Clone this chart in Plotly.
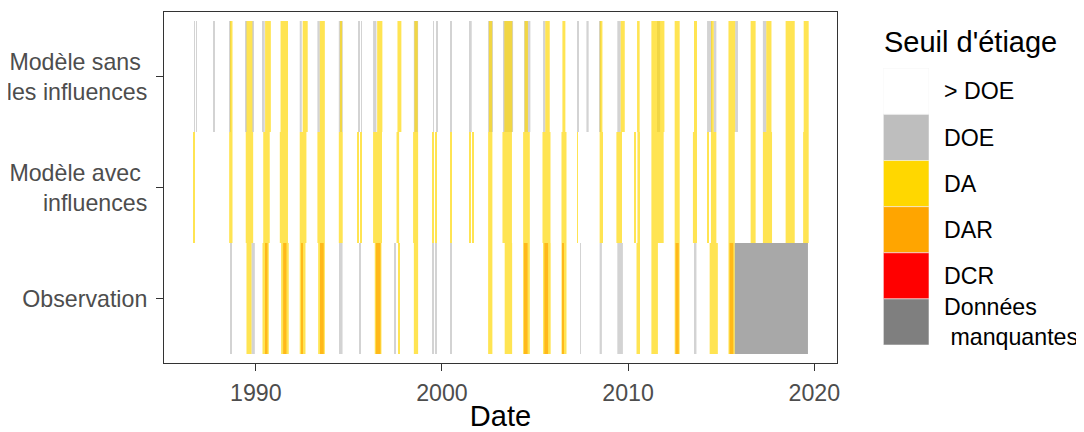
import numpy as np
import plotly.graph_objects as go

# ---------------- data ----------------
rows = ["Observation", "Modèle avec influences", "Modèle sans les influences"]
row_labels = ["Observation", "Modèle avec <br>influences", "Modèle sans <br>les influences"]

categories = ["> DOE", "DOE", "DA", "DAR", "DCR", "Données manquantes"]
legend_labels = ["> DOE", "DOE", "DA", "DAR", "DCR", "Données<br>\u00a0manquantes"]
cat_colors = ["#FFFFFF", "#BEBEBE", "#FFD700", "#FFA500", "#FF0000", "#7F7F7F"]

# Modèle sans les influences
sans_start = [1986.70, 1986.79, 1987.74, 1988.60, 1988.66, 1989.46, 1989.50, 1989.82,
              1990.38, 1990.50, 1991.33, 1992.36, 1992.52, 1993.31, 1993.44, 1994.46,
              1994.52, 1995.53, 1995.66, 1996.30, 1996.52, 1997.61, 1998.49, 1998.52,
              1999.52, 1999.70, 2000.46, 2001.50, 2002.48, 2002.52, 2003.28, 2003.35,
              2004.41, 2004.44, 2005.43, 2005.55, 2006.47, 2007.28, 2007.76, 2008.46,
              2008.48, 2009.42, 2009.60, 2010.48, 2011.25, 2011.55, 2012.50, 2013.54,
              2014.24, 2014.50, 2014.60, 2015.39, 2015.75, 2016.58, 2017.24, 2017.42,
              2018.46, 2019.43]
sans_end = [1986.72, 1986.81, 1987.76, 1988.64, 1988.75, 1989.50, 1989.82, 1989.86,
            1990.48, 1990.81, 1991.73, 1992.47, 1992.79, 1993.44, 1993.71, 1994.67,
            1994.64, 1995.56, 1995.69, 1996.48, 1996.80, 1997.82, 1998.72, 1998.70,
            1999.55, 1999.74, 2000.49, 2001.60, 2002.74, 2002.70, 2003.82, 2003.78,
            2004.75, 2004.62, 2005.55, 2005.79, 2006.63, 2007.31, 2007.88, 2008.50,
            2008.62, 2009.60, 2009.82, 2010.62, 2011.95, 2011.72, 2012.77, 2013.70,
            2014.50, 2014.60, 2014.74, 2015.75, 2015.90, 2016.85, 2017.42, 2017.70,
            2018.95, 2019.70]
sans_cat = ["DOE", "DOE", "DOE", "DOE", "DA", "DOE", "DA", "DOE",
            "DOE", "DA", "DA", "DOE", "DA", "DOE", "DA", "DOE",
            "DA", "DOE", "DOE", "DOE", "DA", "DA", "DOE", "DA",
            "DOE", "DOE", "DOE", "DOE", "DOE", "DA", "DOE", "DA",
            "DOE", "DA", "DOE", "DA", "DA", "DOE", "DOE", "DOE",
            "DA", "DOE", "DA", "DA", "DA", "DOE", "DA", "DA",
            "DOE", "DA", "DOE", "DA", "DOE", "DA", "DOE", "DA",
            "DA", "DA"]

# Modèle avec influences
avec_start = [1986.67, 1988.57, 1989.46, 1990.40, 1991.29, 1992.36, 1993.31, 1994.46,
              1995.48, 1995.62, 1996.30, 1997.56, 1998.45, 1999.49, 1999.64, 2000.44,
              2001.46, 2001.62, 2002.48, 2003.25, 2004.36, 2005.40, 2006.42, 2007.28,
              2008.47, 2009.37, 2010.32, 2010.50, 2011.25, 2012.50, 2013.48, 2014.24,
              2014.45, 2015.39, 2016.58, 2017.24, 2018.46, 2019.40]
avec_end = [1986.70, 1988.75, 1989.86, 1990.75, 1991.73, 1992.72, 1993.71, 1994.67,
            1995.52, 1995.68, 1996.78, 1997.70, 1998.72, 1999.54, 1999.70, 2000.50,
            2001.52, 2001.71, 2002.71, 2003.76, 2004.72, 2005.83, 2006.69, 2007.30,
            2008.65, 2009.67, 2010.38, 2010.64, 2011.91, 2012.77, 2013.70, 2014.30,
            2014.74, 2015.73, 2016.85, 2017.73, 2018.95, 2019.70]
avec_cat = ["DA"] * 38

# Observation
obs_start = [1988.62, 1989.50, 1989.77, 1990.36, 1990.54, 1991.36, 1991.47, 1992.36,
             1992.47, 1993.35, 1993.45, 1994.47, 1995.59, 1996.39, 1996.45, 1997.46,
             1997.64, 1998.49, 1999.49, 1999.66, 2000.46, 2002.48, 2003.37, 2004.36,
             2004.40, 2005.43, 2005.50, 2006.42, 2006.47, 2007.44, 2008.47, 2009.42,
             2010.45, 2011.25, 2012.50, 2012.55, 2013.54, 2014.38, 2015.39, 2015.45,
             2015.73]
obs_end = [1988.70, 1989.77, 1989.95, 1990.70, 1990.63, 1991.77, 1991.65, 1992.67,
           1992.52, 1993.71, 1993.65, 1994.66, 1995.63, 1996.75, 1996.70, 1997.49,
           1997.70, 1998.72, 1999.52, 1999.70, 2000.49, 2002.71, 2003.77, 2004.72,
           2004.60, 2005.84, 2005.70, 2006.69, 2006.55, 2007.46, 2008.59, 2009.72,
           2010.64, 2011.60, 2012.77, 2012.72, 2013.67, 2014.82, 2015.73, 2015.65,
           2019.66]
obs_cat = ["DOE", "DA", "DOE", "DA", "DAR", "DA", "DAR", "DA",
           "DAR", "DA", "DAR", "DOE", "DOE", "DA", "DAR", "DOE",
           "DA", "DA", "DOE", "DOE", "DOE", "DA", "DA", "DA",
           "DAR", "DA", "DAR", "DA", "DAR", "DOE", "DOE", "DOE",
           "DA", "DA", "DA", "DAR", "DOE", "DA", "DA", "DAR",
           "Données manquantes"]

# background (> DOE) spans for each row
above_start = [1986.67, 1986.67, 1986.67]
above_end = [2015.73, 2019.70, 2019.70]

x_ticks = [1990, 2000, 2010, 2020]

# ---------------- figure ----------------
FONT = "Liberation Sans, Arial, sans-serif"
ALPHA = 0.68

series = [
    (0, obs_start, obs_end, obs_cat),
    (1, avec_start, avec_end, avec_cat),
    (2, sans_start, sans_end, sans_cat),
]

fig = go.Figure()

for cat, col in zip(categories, cat_colors):
    ys, bases, lens = [], [], []
    if cat == "> DOE":
        for r in range(3):
            ys.append(r)
            bases.append(above_start[r])
            lens.append(above_end[r] - above_start[r])
    for r, st, en, ct in series:
        for s, e, c in zip(st, en, ct):
            if c == cat:
                ys.append(r)
                bases.append(s)
                lens.append(e - s)
    if not ys:
        continue
    fig.add_trace(go.Bar(
        orientation="h", y=ys, x=np.array(lens), base=bases, width=1,
        marker=dict(color=col, opacity=ALPHA, line=dict(width=0)),
        showlegend=False, hoverinfo="skip", xaxis="x", yaxis="y",
    ))

# custom legend drawn as a bar column
n = len(categories)
fig.add_trace(go.Bar(
    orientation="h", y=list(range(n - 1, -1, -1)), x=[1] * n, base=0, width=1,
    marker=dict(color=cat_colors, line=dict(color="#F2F2F2", width=0.6)),
    showlegend=False, hoverinfo="skip", xaxis="x2", yaxis="y2",
))

# page offset: the html body adds an 8px margin around the figure
OFF = 8
W, H = 1084 - OFF, 432 - OFF
ml, mr, mt, mb = 164 - OFF, 0, 12 - OFF, 69
pw, ph = W - ml - mr, H - mt - mb

def px_x(p):  # page x pixel -> paper
    return (p - OFF - ml) / pw

def px_y(p):  # page y pixel -> paper
    return (H - mb - (p - OFF)) / ph

TICK = 23.2
TITLE = 29

fig.update_layout(
    template="none",
    width=W, height=H,
    margin=dict(l=ml, r=mr, t=mt, b=mb, pad=0),
    paper_bgcolor="white", plot_bgcolor="white",
    barmode="overlay",
    font=dict(family=FONT, size=TICK, color="#4D4D4D"),
    xaxis=dict(
        domain=[0, px_x(837)], range=[1985.07, 2021.22],
        tickvals=x_ticks, ticktext=[str(t) for t in x_ticks],
        ticks="outside", ticklen=7, tickwidth=1.1, tickcolor="#333333",
        showline=True, linecolor="#333333", linewidth=1.1, mirror=True,
        showgrid=False, zeroline=False, automargin=False,
        tickfont=dict(size=TICK, color="#4D4D4D"), ticklabelstandoff=2,
        title=dict(text="Date", font=dict(size=TITLE, color="black"), standoff=2),
        anchor="y",
    ),
    yaxis=dict(
        domain=[0, 1], range=[-0.581, 2.581],
        tickvals=[0, 1, 2], ticktext=row_labels,
        ticks="outside", ticklen=7, tickwidth=1.1, tickcolor="#333333",
        showline=True, linecolor="#333333", linewidth=1.1, mirror=True,
        showgrid=False, zeroline=False, automargin=False,
        tickfont=dict(size=TICK, color="#4D4D4D"), ticklabelstandoff=4,
        anchor="x",
    ),
    xaxis2=dict(
        domain=[px_x(883.3), px_x(929)], range=[0, 1], visible=False,
        anchor="y2", fixedrange=True,
    ),
    yaxis2=dict(
        domain=[px_y(345), px_y(68.3)], range=[-0.5, n - 0.5],
        tickvals=list(range(n - 1, -1, -1)), ticktext=legend_labels,
        side="right", ticks="", showline=False, showgrid=False, zeroline=False,
        tickfont=dict(size=TICK, color="black"), ticklabelstandoff=14,
        anchor="x2", automargin=False, fixedrange=True,
    ),
    annotations=[dict(
        text="Seuil d'étiage", x=px_x(882), y=px_y(42), xref="paper", yref="paper",
        xanchor="left", yanchor="middle", showarrow=False,
        font=dict(size=TITLE, color="black", family=FONT),
    )],
)

fig.write_html("out.html")
